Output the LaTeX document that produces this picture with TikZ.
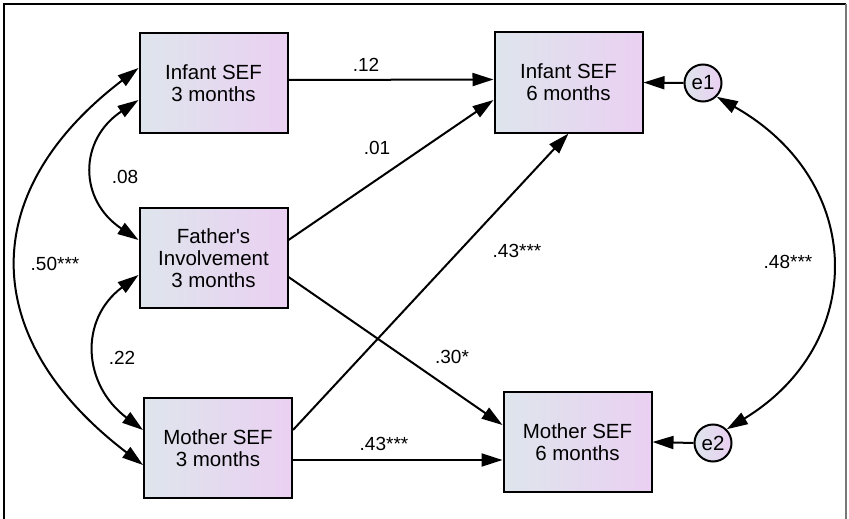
\documentclass[tikz,border=0pt]{standalone}
\usepackage{fontspec}
\setmainfont{Liberation Sans}[Ligatures=TeXOff]
\usetikzlibrary{arrows.meta}
\definecolor{boxL}{RGB}{222,229,236}
\definecolor{boxR}{RGB}{234,208,242}
\definecolor{frameR}{RGB}{120,120,120}
\begin{document}
\begin{tikzpicture}[x=1pt,y=-1pt,
  var/.style={draw=black, line width=2pt, left color=boxL, right color=boxR,
    minimum width=148pt, minimum height=100pt, align=center,
    font=\fontsize{20.5}{22}\selectfont, inner sep=0pt},
  err/.style={circle, draw=black, line width=2pt, left color=boxL, right color=boxR,
    minimum size=37pt, inner sep=0pt, font=\fontsize{20.5}{22}\selectfont},
  conn/.style={line width=2pt, -{Triangle[length=21pt,width=13pt]}},
  cov/.style={line width=2pt, {Triangle[length=21pt,width=13pt]}-{Triangle[length=21pt,width=13pt]}},
  lab/.style={font=\fontsize{19}{19}\selectfont, inner sep=1pt}
]
\useasboundingbox (0,0) rectangle (849,519);
% frame
\draw[line width=2pt] (4,522) -- (4,4) -- (846,4);
\draw[line width=1.4pt, frameR] (846,4) -- (846,522);

% nodes
\node[var] (I3) at (213.5,83) {Infant SEF\\3 months};
\node[var] (F3) at (213.5,258) {Father's\\Involvement\\3 months};
\node[var] (M3) at (218,448) {Mother SEF\\3 months};
\node[var] (I6) at (568.5,82.5) {Infant SEF\\6 months};
\node[var] (M6) at (577.5,442) {Mother SEF\\6 months};
\node[err] (e1) at (703,83) {e1};
\node[err] (e2) at (713,443) {e2};

% regression paths
\draw[conn] ([yshift=3pt]I3.east) -- ([yshift=3pt]I6.west);
\draw[conn] ([yshift=18pt]F3.east) -- ([yshift=-17.5pt]I6.west);
\draw[conn] ([yshift=-19pt]F3.east) -- ([yshift=17pt]M6.west);
\draw[conn] ([yshift=18pt]M3.east) -- (I6.south);
\draw[conn] ([yshift=-12pt]M3.east) -- ([yshift=-18pt]M6.west);
\draw[conn] (e1.west) -- (I6.east);
\draw[conn] (e2.west) -- (M6.east);

% covariances
\draw[cov] ([yshift=15pt]I3.west) .. controls +(-164,125) and +(-164,-125) .. ([yshift=-17pt]M3.west);
\draw[cov] ([yshift=-17pt]I3.west) .. controls +(-60,40) and +(-60,-40) .. ([yshift=18pt]F3.west);
\draw[cov] ([yshift=-17pt]F3.west) .. controls +(-60,45) and +(-60,-45) .. ([yshift=18pt]M3.west);
\draw[cov] (e1.south east) .. controls +(150,85) and +(140,-85) .. (e2.north east);

% labels
\node[lab] (l12) at (366,65) {.12};
\node[lab] (l01) at (377,148) {.01};
\node[lab] (l43a) at (517,251) {.43***};
\node[lab] (l30) at (452,357) {.30*};
\node[lab] (l43b) at (384,444) {.43***};
\node[lab] (l48) at (788,262) {.48***};
\node[lab] (l08) at (125,177) {.08};
\node[lab] (l50) at (55,264) {.50***};
\node[lab] (l22) at (122,358) {.22};
\end{tikzpicture}
\end{document}
